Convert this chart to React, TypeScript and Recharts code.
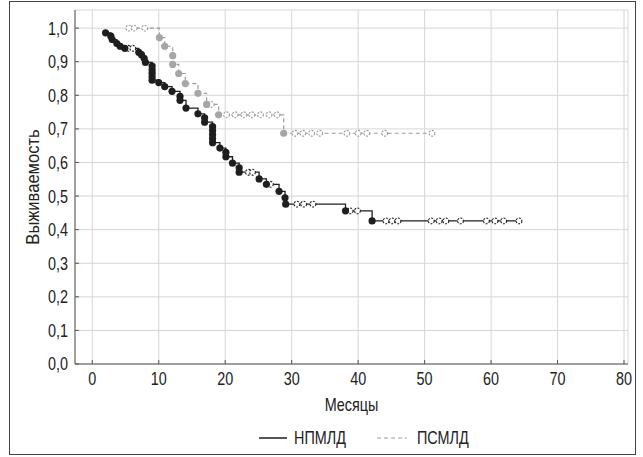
import React from 'react';
import { ComposedChart, Line, Scatter, XAxis, YAxis, CartesianGrid, Legend } from 'recharts';

// Kaplan-Meier estimates: [month, survival]
const npmldEvents: [number, number][] = [
  [2.0, 0.986], [2.8, 0.976], [3.0, 0.966], [3.7, 0.954], [4.2, 0.946], [4.9, 0.94],
  [7.0, 0.928], [7.4, 0.921], [7.8, 0.91], [8.0, 0.898],
  [9.0, 0.887], [9.0, 0.876], [9.0, 0.866], [9.0, 0.855], [9.0, 0.845],
  [10.0, 0.838], [10.9, 0.826], [12.0, 0.812], [13.2, 0.797], [13.2, 0.785], [14.1, 0.762],
  [15.9, 0.745], [16.9, 0.733], [16.9, 0.72],
  [18.1, 0.707], [18.1, 0.695], [18.1, 0.683], [18.1, 0.671], [18.1, 0.659],
  [19.2, 0.643], [20.1, 0.63], [20.1, 0.617], [21.1, 0.598], [22.1, 0.584], [22.1, 0.571],
  [25.1, 0.551], [26.2, 0.535], [28.1, 0.514], [29.0, 0.495], [29.1, 0.476],
  [38.1, 0.456], [42.1, 0.426],
];
const npmldCensored: [number, number][] = [
  [5.4, 0.94], [6.1, 0.94], [23.5, 0.571], [24.1, 0.571], [26.8, 0.535],
  [30.8, 0.476], [31.8, 0.476], [33.2, 0.476], [38.8, 0.456], [39.9, 0.456],
  [44.2, 0.426], [45.1, 0.426], [46.0, 0.426], [51.0, 0.426], [52.2, 0.426], [53.2, 0.426],
  [55.4, 0.426], [59.3, 0.426], [60.6, 0.426], [61.9, 0.426], [64.2, 0.426],
];
const psmldEvents: [number, number][] = [
  [10.1, 0.972], [10.9, 0.946], [12.1, 0.918], [12.1, 0.892], [13.0, 0.865], [14.0, 0.835],
  [15.9, 0.806], [17.2, 0.773], [19.0, 0.742], [28.8, 0.687],
];
const psmldCensored: [number, number][] = [
  [5.5, 1.0], [6.3, 1.0], [7.9, 1.0], [17.9, 0.773],
  [20.2, 0.742], [21.5, 0.742], [22.8, 0.742], [24.0, 0.742], [25.3, 0.742], [26.6, 0.742], [27.8, 0.742],
  [30.5, 0.687], [31.7, 0.687], [33.0, 0.687], [34.2, 0.687], [38.3, 0.687], [40.0, 0.687],
  [41.3, 0.687], [44.0, 0.687], [51.1, 0.687],
];

const xTicks = [0, 10, 20, 30, 40, 50, 60, 70, 80];
const yTicks = [0, 0.1, 0.2, 0.3, 0.4, 0.5, 0.6, 0.7, 0.8, 0.9, 1.0];

const FONT = '"Liberation Sans", Arial, sans-serif';
const FS = 18;
const SQUEEZE = 0.8; // narrow face look
const TXT = '#222';
const DARK = '#1e1e1e';
const GREY = '#9c9c9c';
const AXIS = '#555';

const toPoints = (arr: [number, number][]) => arr.map(([t, s]) => ({ t, s }));
const stepLine = (ev: [number, number][], cens: [number, number][]) =>
  [...toPoints(ev), ...toPoints(cens)].sort((a, b) => a.t - b.t);

const npmldLine = stepLine(npmldEvents, npmldCensored);
const psmldLine = stepLine(psmldEvents, psmldCensored);

const dot = (color: string) => (p: any) => <circle cx={p.cx} cy={p.cy} r={3.6} fill={color} />;
const censor = (color: string) => (p: any) => (
  <circle cx={p.cx} cy={p.cy} r={2.9} fill="#fff" stroke={color} strokeWidth={1.1} strokeDasharray="2 1.3" />
);

// condensed text helper
const NarrowText = ({ x, y, anchor, dy, rotate = 0, squeeze = SQUEEZE, children }: any) => (
  <g transform={`translate(${x},${y}) rotate(${rotate})`}>
    <text transform={`scale(${squeeze},1)`} textAnchor={anchor} dy={dy} fill={TXT} fontSize={FS} fontFamily={FONT}>
      {children}
    </text>
  </g>
);

const XTick = (p: any) => (
  <NarrowText x={p.x} y={p.y} anchor="middle" dy="0.71em">{p.payload.value}</NarrowText>
);
const YTick = (p: any) => (
  <NarrowText x={p.x} y={p.y} anchor="end" dy="0.36em">{p.payload.value.toFixed(1).replace('.', ',')}</NarrowText>
);

const XLabel = (p: any) => {
  const vb = p.viewBox;
  return <NarrowText x={vb.x + vb.width / 2} y={vb.y + vb.height - 5} anchor="middle" dy="0">Месяцы</NarrowText>;
};
const YLabel = (p: any) => {
  const vb = p.viewBox;
  return (
    <NarrowText x={vb.x + 3} y={vb.y + vb.height / 2} anchor="middle" dy="0.36em" rotate={-90} squeeze={0.92}>
      Выживаемость
    </NarrowText>
  );
};

const renderLegend = () => (
  <svg width={260} height={24}>
    <line x1={0} y1={11} x2={28} y2={11} stroke={DARK} strokeWidth={1.5} />
    <NarrowText x={35} y={17} anchor="start" dy="0">НПМЛД</NarrowText>
    <line x1={118} y1={11} x2={148} y2={11} stroke={GREY} strokeWidth={1.2} strokeDasharray="4 3" />
    <NarrowText x={158} y={17} anchor="start" dy="0">ПСМЛД</NarrowText>
  </svg>
);

export default function App() {
  return (
    <div style={{ position: 'absolute', left: 0, top: 0, width: 643, height: 457, background: '#fff' }}>
      <div style={{ position: 'absolute', left: 9, top: 1, width: 625, height: 452, border: '1px solid #444' }} />
      <ComposedChart
        width={643}
        height={457}
        margin={{ top: 10, right: 15, left: 30, bottom: 41 }}
        style={{ position: 'absolute', left: 0, top: 0 }}
      >
        <CartesianGrid stroke="#d6d6d6" />
        <XAxis
          dataKey="t"
          type="number"
          domain={[-2.6, 80.6]}
          ticks={xTicks}
          allowDataOverflow
          height={52}
          stroke={AXIS}
          tickSize={-4}
          tickMargin={12}
          tick={<XTick />}
          label={<XLabel />}
        />
        <XAxis
          xAxisId="top"
          orientation="top"
          type="number"
          domain={[-2.6, 80.6]}
          ticks={xTicks}
          allowDataOverflow
          height={0}
          stroke={AXIS}
          tickSize={-4}
          tick={false}
        />
        <YAxis
          type="number"
          domain={[0, 1.054]}
          ticks={yTicks}
          allowDataOverflow
          width={45}
          stroke={AXIS}
          tickSize={-4}
          tickMargin={11}
          tick={<YTick />}
          label={<YLabel />}
        />
        <YAxis
          yAxisId="right"
          orientation="right"
          type="number"
          domain={[0, 1.054]}
          ticks={yTicks}
          allowDataOverflow
          width={0}
          stroke={AXIS}
          tickSize={-4}
          tick={false}
        />
        <Line
          data={psmldLine}
          dataKey="s"
          type="stepAfter"
          stroke={GREY}
          strokeWidth={1.2}
          strokeDasharray="4 3"
          dot={false}
          activeDot={false}
          isAnimationActive={false}
          name="ПСМЛД"
        />
        <Line
          data={npmldLine}
          dataKey="s"
          type="stepAfter"
          stroke={DARK}
          strokeWidth={1.3}
          dot={false}
          activeDot={false}
          isAnimationActive={false}
          name="НПМЛД"
        />
        <Scatter data={toPoints(psmldCensored)} dataKey="s" shape={censor(GREY)} isAnimationActive={false} legendType="none" />
        <Scatter data={toPoints(psmldEvents)} dataKey="s" shape={dot('#a6a6a6')} isAnimationActive={false} legendType="none" />
        <Scatter data={toPoints(npmldCensored)} dataKey="s" shape={censor(DARK)} isAnimationActive={false} legendType="none" />
        <Scatter data={toPoints(npmldEvents)} dataKey="s" shape={dot(DARK)} isAnimationActive={false} legendType="none" />
        <Legend
          layout="horizontal"
          verticalAlign="middle"
          align="center"
          content={renderLegend}
          wrapperStyle={{ left: 259, top: 427, width: 260, height: 24 }}
        />
      </ComposedChart>
    </div>
  );
}
